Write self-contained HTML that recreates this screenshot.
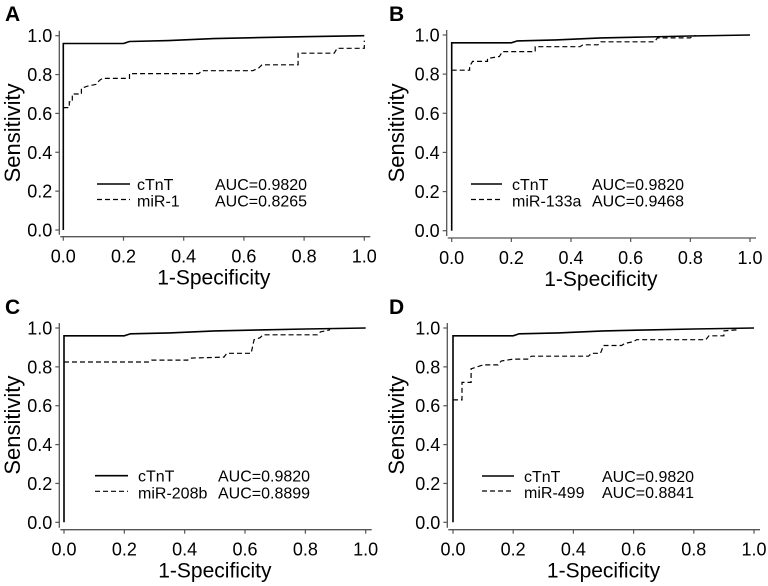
<!DOCTYPE html>
<html><head><meta charset="utf-8"><style>
html,body{margin:0;padding:0;background:#fff}
svg{display:block;font-family:"Liberation Sans",Arial,sans-serif}
</style></head><body>
<svg id="fig" width="768" height="586" viewBox="0 0 768 586"></svg>
<script>
const xTicks = [0, 0.2, 0.4, 0.6, 0.8, 1.0];
const yTicks = [0, 0.2, 0.4, 0.6, 0.8, 1.0];
const tickLabels = ["0.0","0.2","0.4","0.6","0.8","1.0"];
const cTnT = [[0,0],[0,0.96],[0.2,0.96],[0.22,0.97],[0.35,0.975],[0.5,0.985],[0.65,0.99],[0.8,0.995],[1,1]];
const mir1 = [[0,0.63],[0.02,0.63],[0.02,0.66],[0.03,0.66],[0.03,0.70],[0.06,0.70],[0.06,0.73],[0.08,0.74],[0.11,0.75],[0.12,0.77],[0.13,0.78],[0.22,0.78],[0.22,0.805],[0.45,0.805],[0.46,0.82],[0.63,0.82],[0.65,0.835],[0.66,0.85],[0.78,0.85],[0.78,0.91],[0.9,0.91],[0.91,0.935],[1,0.935],[1,0.975]];
const mir133a = [[0,0.82],[0.06,0.82],[0.06,0.84],[0.07,0.865],[0.12,0.865],[0.12,0.88],[0.16,0.89],[0.17,0.915],[0.28,0.915],[0.28,0.94],[0.43,0.94],[0.44,0.95],[0.49,0.95],[0.5,0.965],[0.68,0.965],[0.69,0.985],[0.8,0.985],[0.81,0.995],[0.82,0.997]];
const mir208b = [[0,0.825],[0.28,0.825],[0.29,0.835],[0.41,0.835],[0.42,0.845],[0.53,0.85],[0.54,0.87],[0.62,0.87],[0.63,0.94],[0.65,0.95],[0.66,0.965],[0.84,0.965],[0.85,0.98],[0.88,0.99],[0.88,1.0]];
const mir499 = [[0,0.63],[0.03,0.63],[0.03,0.72],[0.06,0.72],[0.06,0.79],[0.08,0.80],[0.1,0.81],[0.15,0.81],[0.16,0.83],[0.2,0.84],[0.25,0.84],[0.26,0.855],[0.45,0.855],[0.46,0.87],[0.49,0.87],[0.5,0.91],[0.56,0.91],[0.57,0.92],[0.6,0.93],[0.61,0.94],[0.84,0.94],[0.85,0.96],[0.9,0.96],[0.9,0.985],[0.94,0.99],[0.94,1.0]];
const panelLetters = ["A","B","C","D"];
const mirNames = ["miR-1","miR-133a","miR-208b","miR-499"];
const mirAUC = ["AUC=0.8265","AUC=0.9468","AUC=0.8899","AUC=0.8841"];
const cTnTAUC = "AUC=0.9820";
const mirSeries = [mir1, mir133a, mir208b, mir499];

const NS = "http://www.w3.org/2000/svg";
const svg = document.getElementById("fig");
function mk(tag, attrs, parent, text){
  const e = document.createElementNS(NS, tag);
  for (const k in attrs) e.setAttribute(k, attrs[k]);
  if (text !== undefined) e.textContent = text;
  parent.appendChild(e);
  return e;
}
const geo = [
  {x0:63.3,x1:364.3,yt:35.7,yb:230,ax:59.3,ay:236.7,ox:0,oy:0,lx1:97,lx2:130,tx:137,ax2:215,ly1:184,ly2:199.5},
  {x0:451.7,x1:750,yt:35,yb:230.7,ax:446.7,ay:238,ox:384,oy:0,lx1:471,lx2:502,tx:512,ax2:592,ly1:184,ly2:199.5},
  {x0:64,x1:365.7,yt:328,yb:522.3,ax:59.3,ay:529.7,ox:0,oy:293,lx1:95,lx2:128,tx:138,ax2:218,ly1:475.7,ly2:491.3},
  {x0:453,x1:754,yt:328,yb:522.3,ax:447.3,ay:529.7,ox:384,oy:293,lx1:482,lx2:514,tx:524,ax2:602,ly1:476,ly2:491}
];
geo.forEach((g, i) => {
  const p = mk("g", {}, svg);
  
  
  const sx = v => g.x0 + v * (g.x1 - g.x0);
  const sy = v => g.yb - v * (g.yb - g.yt);
  const letter = mk("text", {x: g.ox + 5, y: g.oy + 21, "font-size": 21, "font-weight": "bold"}, p, panelLetters[i]);
  
  
  const yAxis = mk("line", {x1: g.ax, x2: g.ax, y1: g.yt - 5, y2: g.ay - 2, stroke: "#555", "stroke-width": 1.3}, p);
  
  
  const xAxis = mk("line", {x1: g.ax + 1, x2: g.x1 + 6, y1: g.ay, y2: g.ay, stroke: "#555", "stroke-width": 1.3}, p);
  
  
  yTicks.forEach((t, k) => {
    mk("line", {x1: g.ax - 4, x2: g.ax, y1: sy(t), y2: sy(t), stroke: "#555", "stroke-width": 1.2}, p);
    const tl = mk("text", {x: g.ax - 7, y: sy(t) + 6.5, "font-size": 18, "text-anchor": "end"}, p, tickLabels[k]);
    
    
  });
  xTicks.forEach((t, k) => {
    mk("line", {x1: sx(t), x2: sx(t), y1: g.ay, y2: g.ay + 4, stroke: "#555", "stroke-width": 1.2}, p);
    const tl = mk("text", {x: sx(t), y: g.ay + 26, "font-size": 18, "text-anchor": "middle"}, p, tickLabels[k]);
    
    
  });
  const xt = mk("text", {x: (g.x0 + g.x1) / 2, y: g.ay + 48, "font-size": 21, "text-anchor": "middle"}, p, "1-Specificity");
  
  
  const cy = (g.yt + g.yb) / 2;
  const yt = mk("text", {x: g.ox + 20, y: cy, "font-size": 22, "text-anchor": "middle", transform: `rotate(-90 ${g.ox + 20} ${cy})`}, p, "Sensitivity");
  
  
  const pts = a => a.map(d => sx(d[0]).toFixed(1) + "," + sy(d[1]).toFixed(1)).join(" ");
  const l1 = mk("polyline", {points: pts(cTnT), fill: "none", stroke: "#000", "stroke-width": 1.6}, p);
  
  
  const l2 = mk("polyline", {points: pts(mirSeries[i]), fill: "none", stroke: "#000", "stroke-width": 1.2, "stroke-dasharray": "5,3"}, p);
  
  
  const lg = mk("g", {}, p);
  
  
  mk("line", {x1: g.lx1, x2: g.lx2, y1: g.ly1, y2: g.ly1, stroke: "#000", "stroke-width": 1.6}, lg);
  mk("line", {x1: g.lx1, x2: g.lx2, y1: g.ly2, y2: g.ly2, stroke: "#000", "stroke-width": 1.2, "stroke-dasharray": "5,3"}, lg);
  mk("text", {x: g.tx, y: g.ly1 + 6, "font-size": 16}, lg, "cTnT");
  mk("text", {x: g.ax2, y: g.ly1 + 6, "font-size": 16}, lg, cTnTAUC);
  mk("text", {x: g.tx, y: g.ly2 + 7, "font-size": 16}, lg, mirNames[i]);
  mk("text", {x: g.ax2, y: g.ly2 + 7, "font-size": 16}, lg, mirAUC[i]);
});
</script>
</body></html>
